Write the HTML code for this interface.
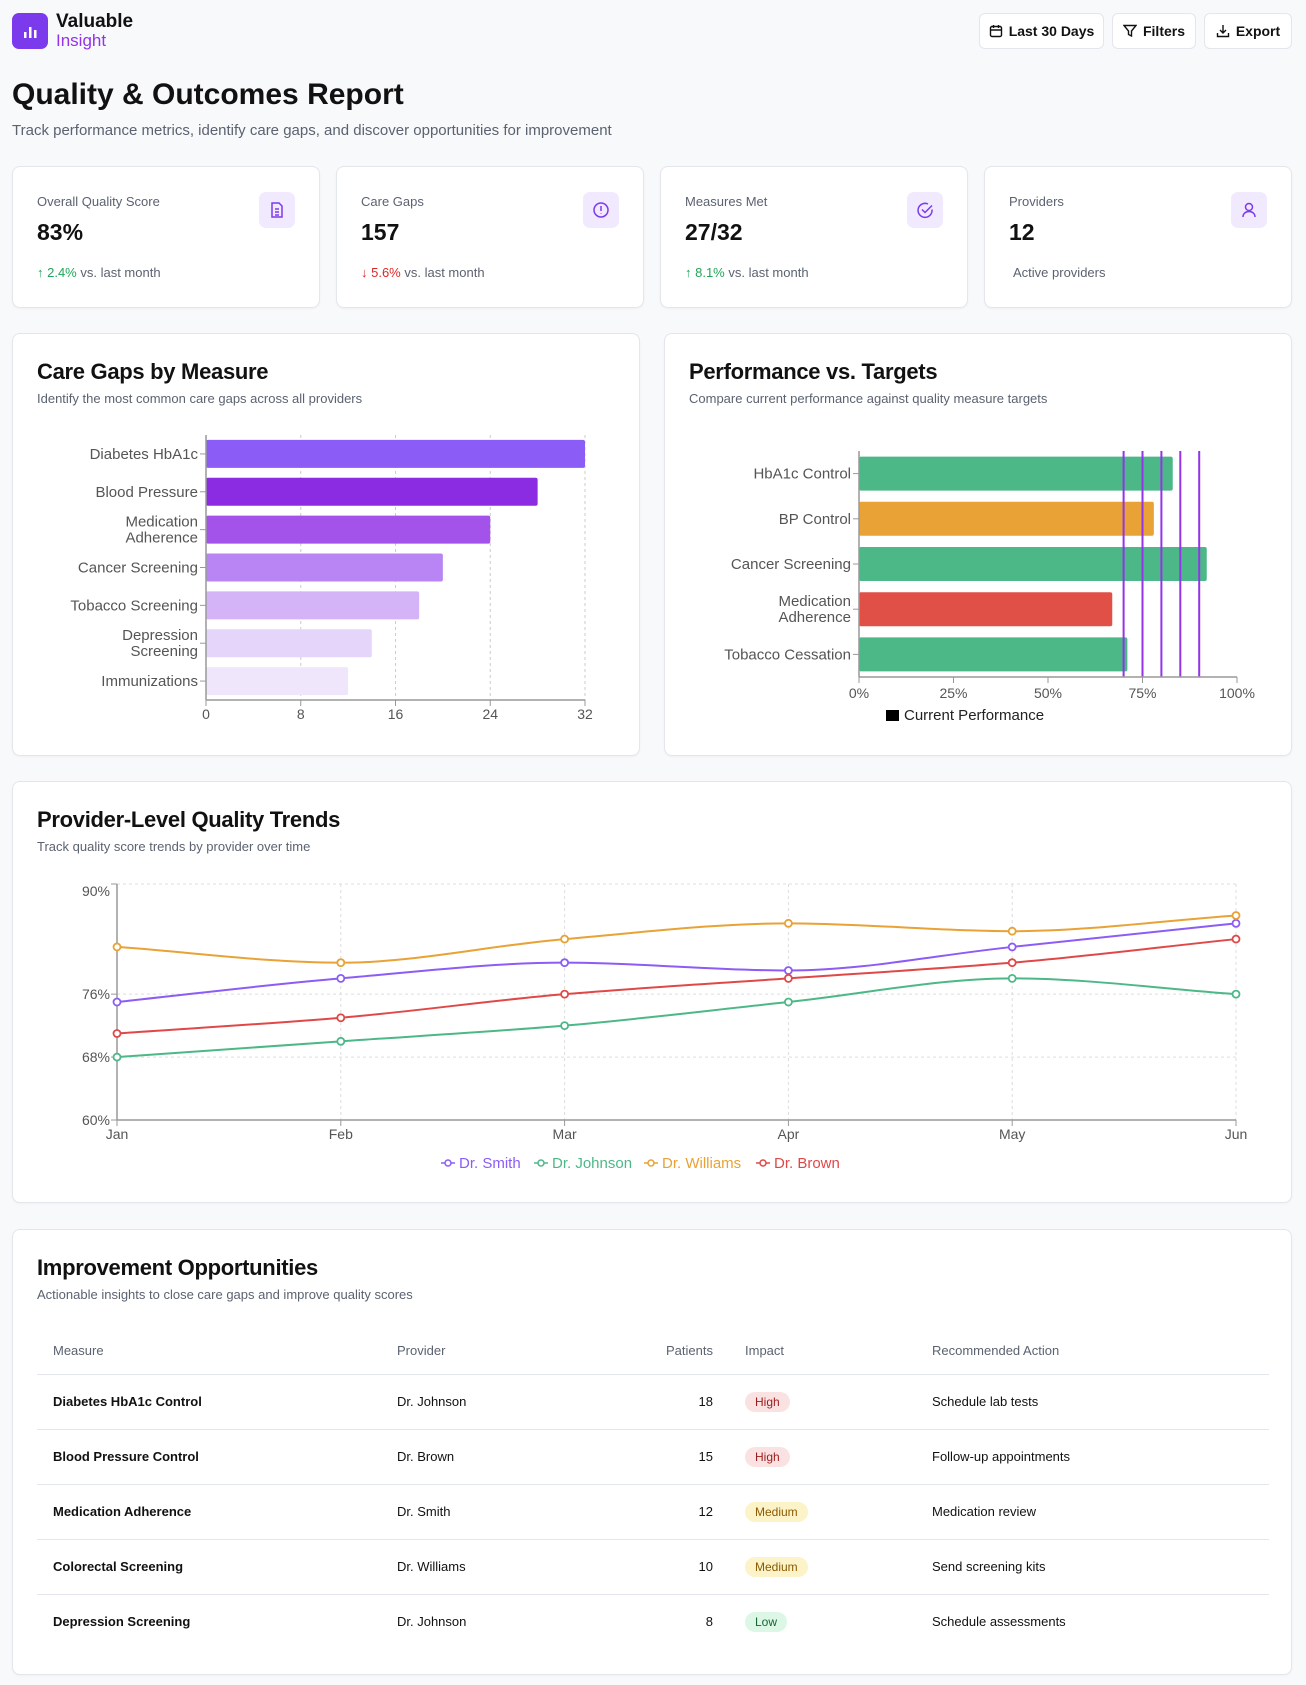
<!DOCTYPE html>
<html><head><meta charset="utf-8">
<style>
*{box-sizing:border-box;margin:0;padding:0}
body{width:1306px;height:1685px;background:#f8f9fb;font-family:"Liberation Sans",sans-serif;color:#111;position:relative;overflow:hidden}
.abs{position:absolute}
.card{position:absolute;background:#fff;border:1px solid #e3e6ec;border-radius:8px;box-shadow:0 1px 2px rgba(0,0,0,.04)}
.btn{position:absolute;top:13px;height:36px;background:#fff;border:1px solid #e3e6ec;border-radius:6px;font-size:14px;font-weight:bold;display:flex;align-items:center;justify-content:center;gap:6px;color:#111}
.kt{position:absolute;left:24px;top:27px;font-size:13px;color:#5b6270}
.kv{position:absolute;left:24px;top:52px;font-size:23px;font-weight:bold}
.kc{position:absolute;left:24px;top:98px;font-size:13px;color:#5b6270}
.ki{position:absolute;right:24px;top:25px;width:36px;height:36px;border-radius:7px;background:#f1e9fd;display:flex;align-items:center;justify-content:center}
.ct{position:absolute;left:24px;top:25px;font-size:22px;font-weight:bold;letter-spacing:-0.3px}
.cs{position:absolute;left:24px;top:57px;font-size:13px;color:#5b6270}
table{position:absolute;left:24px;top:97px;width:1232px;border-collapse:collapse;font-size:13px}
th{font-weight:normal;color:#5b6270;text-align:left;height:47px;border-bottom:1px solid #e3e6ec;padding-left:16px}
td{height:55px;border-bottom:1px solid #e3e6ec;padding-left:16px;color:#111}
tr:last-child td{border-bottom:none}
.pill{display:inline-block;padding:3px 10px;border-radius:11px;font-size:12px}
.hi{background:#fbe2e2;color:#9b1c1c}.me{background:#fdf3c8;color:#8a5a00}.lo{background:#dcf7e6;color:#166534}
</style></head><body>
<div class="abs" style="left:12px;top:13px;width:36px;height:36px;border-radius:7px;background:#7c3aed">
<svg width="36" height="36"><rect x="12" y="19" width="2.5" height="6" fill="#fff"/><rect x="17" y="14" width="2.5" height="11" fill="#fff"/><rect x="22" y="17" width="2.5" height="8" fill="#fff"/></svg></div>
<div class="abs" style="left:56px;top:12px;font-size:19px;font-weight:bold;line-height:20px">Valuable</div>
<div class="abs" style="left:56px;top:32px;font-size:17px;color:#9333ea;line-height:18px">Insight</div>
<div class="btn" style="left:979px;width:125px"><svg width="14" height="14" viewBox="0 0 14 14" fill="none" stroke="#111" stroke-width="1.4"><rect x="1.5" y="2.5" width="11" height="10" rx="1.5"/><path d="M1.5 6h11M4.5 1v3M9.5 1v3"/></svg>Last 30 Days</div>
<div class="btn" style="left:1112px;width:84px"><svg width="14" height="14" viewBox="0 0 14 14" fill="none" stroke="#111" stroke-width="1.4"><path d="M1 1.5h12L8.5 7v5l-3-1.5V7z"/></svg>Filters</div>
<div class="btn" style="left:1204px;width:88px"><svg width="14" height="14" viewBox="0 0 14 14" fill="none" stroke="#111" stroke-width="1.4"><path d="M7 1v8M4 6l3 3 3-3M1.5 9v3.5h11V9"/></svg>Export</div>
<div class="abs" style="left:12px;top:78px;font-size:30px;font-weight:bold">Quality &amp; Outcomes Report</div>
<div class="abs" style="left:12px;top:122px;font-size:15px;color:#5b6270">Track performance metrics, identify care gaps, and discover opportunities for improvement</div>

<div class="card" style="left:12px;top:166px;width:308px;height:142px">
<div class="kt">Overall Quality Score</div><div class="kv">83%</div><div class="kc"><span style="color:#22a55a">↑ 2.4%</span> vs. last month</div>
<div class="ki"><svg width="18" height="18" viewBox="0 0 18 18" fill="none" stroke="#7c3aed" stroke-width="1.5"><path d="M4 2h7l3 3v11H4zM7 8h4M7 11h4M7 14h4"/></svg></div></div>
<div class="card" style="left:336px;top:166px;width:308px;height:142px">
<div class="kt">Care Gaps</div><div class="kv">157</div><div class="kc"><span style="color:#dc2626">↓ 5.6%</span> vs. last month</div>
<div class="ki"><svg width="18" height="18" viewBox="0 0 18 18" fill="none" stroke="#7c3aed" stroke-width="1.5"><circle cx="9" cy="9" r="7"/><path d="M9 5v5M9 12.5v.5"/></svg></div></div>
<div class="card" style="left:660px;top:166px;width:308px;height:142px">
<div class="kt">Measures Met</div><div class="kv">27/32</div><div class="kc"><span style="color:#22a55a">↑ 8.1%</span> vs. last month</div>
<div class="ki"><svg width="18" height="18" viewBox="0 0 18 18" fill="none" stroke="#7c3aed" stroke-width="1.5"><path d="M16 8.5A7 7 0 1 1 12 3"/><path d="M6 8.5l3 3 7-7"/></svg></div></div>
<div class="card" style="left:984px;top:166px;width:308px;height:142px">
<div class="kt">Providers</div><div class="kv">12</div><div class="kc" style="left:28px">Active providers</div>
<div class="ki"><svg width="18" height="18" viewBox="0 0 18 18" fill="none" stroke="#7c3aed" stroke-width="1.5"><circle cx="9" cy="6" r="3.5"/><path d="M3 16c0-3.5 2.7-5.5 6-5.5s6 2 6 5.5"/></svg></div></div>

<div class="card" style="left:12px;top:333px;width:628px;height:423px">
<div class="ct">Care Gaps by Measure</div><div class="cs">Identify the most common care gaps across all providers</div></div>
<div class="card" style="left:664px;top:333px;width:628px;height:423px">
<div class="ct">Performance vs. Targets</div><div class="cs">Compare current performance against quality measure targets</div></div>
<div class="card" style="left:12px;top:781px;width:1280px;height:422px">
<div class="ct">Provider-Level Quality Trends</div><div class="cs">Track quality score trends by provider over time</div></div>
<div class="card" style="left:12px;top:1229px;width:1280px;height:446px">
<div class="ct">Improvement Opportunities</div><div class="cs">Actionable insights to close care gaps and improve quality scores</div>
<table>
<tr><th style="width:344px">Measure</th><th style="width:262px">Provider</th><th style="width:70px;text-align:right;padding-left:0">Patients</th><th style="width:203px;padding-left:32px">Impact</th><th>Recommended Action</th></tr>
<tr><td><b>Diabetes HbA1c Control</b></td><td>Dr. Johnson</td><td style="text-align:right">18</td><td style="padding-left:32px"><span class="pill hi">High</span></td><td>Schedule lab tests</td></tr>
<tr><td><b>Blood Pressure Control</b></td><td>Dr. Brown</td><td style="text-align:right">15</td><td style="padding-left:32px"><span class="pill hi">High</span></td><td>Follow-up appointments</td></tr>
<tr><td><b>Medication Adherence</b></td><td>Dr. Smith</td><td style="text-align:right">12</td><td style="padding-left:32px"><span class="pill me">Medium</span></td><td>Medication review</td></tr>
<tr><td><b>Colorectal Screening</b></td><td>Dr. Williams</td><td style="text-align:right">10</td><td style="padding-left:32px"><span class="pill me">Medium</span></td><td>Send screening kits</td></tr>
<tr><td><b>Depression Screening</b></td><td>Dr. Johnson</td><td style="text-align:right">8</td><td style="padding-left:32px"><span class="pill lo">Low</span></td><td>Schedule assessments</td></tr>
</table></div>

<svg id="ov" class="abs" style="left:0;top:0" width="1306" height="1685" font-family="Liberation Sans, sans-serif"></svg>
<script>
const gapCats=["Diabetes HbA1c","Blood Pressure","Medication Adherence","Cancer Screening","Tobacco Screening","Depression Screening","Immunizations"];
const gapVals=[32,28,24,20,18,14,12];
const gapTicks=[0,8,16,24,32];
const perfCats=["HbA1c Control","BP Control","Cancer Screening","Medication Adherence","Tobacco Cessation"];
const perfVals=[83,78,92,67,71];
const perfTargets=[70,75,80,85,90];
const perfTicks=[0,25,50,75,100];
const months=["Jan","Feb","Mar","Apr","May","Jun"];
const smith=[75,78,80,79,82,85];
const johnson=[68,70,72,75,78,76];
const williams=[82,80,83,85,84,86];
const brown=[71,73,76,78,80,83];
const trendTicks=[60,68,76,90];

const NS="http://www.w3.org/2000/svg",ov=document.getElementById('ov');
function mk(t,a,txt){const e=document.createElementNS(NS,t);for(const k in a)e.setAttribute(k,a[k]);if(txt!==undefined)e.textContent=txt;ov.appendChild(e);return e;}
function label(x,y,s){const parts=s==="Medication Adherence"?["Medication","Adherence"]:s==="Depression Screening"?["Depression","Screening"]:[s];
 parts.forEach((p,i)=>{const t=mk('text',{x:x,y:y+5+(parts.length>1?(i-0.5)*16:0),'text-anchor':'end','font-size':15,fill:'#555'},p);});}

(function(){const x0=206,x1=585,yT=435,yB=700,n=gapCats.length,step=(yB-yT)/n;
 const xs=v=>x0+(x1-x0)*v/32;
 gapTicks.forEach(t=>{if(t>0){const g=mk('line',{x1:xs(t),x2:xs(t),y1:yT,y2:yB,stroke:'#ccc','stroke-dasharray':'3 3'});}
  mk('line',{x1:xs(t),x2:xs(t),y1:yB,y2:yB+6,stroke:'#999'});
  const l=mk('text',{x:xs(t),y:yB+19,'text-anchor':'middle','font-size':14,fill:'#555'},t);});
 const cols=['#8b5cf6','#8b2be2','#a352ea','#b984f3','#d4b4f6','#e6d5fa','#f0e6fc'];
 gapCats.forEach((c,i)=>{const yc=yT+step*(i+0.5);
  const b=mk('rect',{x:x0,y:yc-14,width:xs(gapVals[i])-x0,height:28,rx:2,fill:cols[i]});
  mk('line',{x1:x0-6,x2:x0,y1:yc,y2:yc,stroke:'#999'});label(x0-8,yc,c);});
 mk('line',{x1:x0,x2:x0,y1:yT,y2:yB,stroke:'#999','stroke-width':1.5});
 mk('line',{x1:x0,x2:x1,y1:yB,y2:yB,stroke:'#999','stroke-width':1.5});
})();

(function(){const x0=859,x1=1237,yT=451,yB=677,n=perfCats.length,step=(yB-yT)/n;
 const xs=v=>x0+(x1-x0)*v/100;
 perfCats.forEach((c,i)=>{const yc=yT+step*(i+0.5);const v=perfVals[i];
  const col=v>=80?'#4db887':v>=75?'#e8a236':v>=70?'#4db887':'#e05047';
  const b=mk('rect',{x:x0,y:yc-17,width:xs(v)-x0,height:34,rx:2,fill:col});
  mk('line',{x1:x0-6,x2:x0,y1:yc,y2:yc,stroke:'#999'});label(x0-8,yc,c);});
 perfTargets.forEach(t=>{const l=mk('line',{x1:xs(t),x2:xs(t),y1:yT,y2:yB,stroke:'#9333ea','stroke-width':2});});
 perfTicks.forEach(t=>{mk('line',{x1:xs(t),x2:xs(t),y1:yB,y2:yB+6,stroke:'#999'});
  const l=mk('text',{x:xs(t),y:yB+21,'text-anchor':'middle','font-size':14,fill:'#555'},t+'%');});
 mk('line',{x1:x0,x2:x0,y1:yT,y2:yB,stroke:'#999','stroke-width':1.5});
 mk('line',{x1:x0,x2:x1,y1:yB,y2:yB,stroke:'#999','stroke-width':1.5});
 const lg=mk('rect',{x:886,y:710,width:13,height:11,fill:'#000'});
 const lt=mk('text',{x:904,y:720,'font-size':15,fill:'#222'},'Current Performance');
})();

(function(){const x0=117,x1=1236,yTop=884,yBot=1120,lo=60,hi=90;
 const xs=i=>x0+(x1-x0)*i/(months.length-1), ys=v=>yBot-(yBot-yTop)*(v-lo)/(hi-lo);
 trendTicks.forEach(t=>{mk('line',{x1:x0,x2:x1,y1:ys(t),y2:ys(t),stroke:'#ddd','stroke-dasharray':'3 3'});
  mk('line',{x1:x0-6,x2:x0,y1:ys(t),y2:ys(t),stroke:'#999'});
  const l=mk('text',{x:x0-7,y:ys(t)+(t===90?12:5),'text-anchor':'end','font-size':14,fill:'#555'},t+'%');});
 months.forEach((m,i)=>{mk('line',{x1:xs(i),x2:xs(i),y1:yTop,y2:yBot,stroke:'#ddd','stroke-dasharray':'3 3'});
  mk('line',{x1:xs(i),x2:xs(i),y1:yBot,y2:yBot+6,stroke:'#999'});
  const l=mk('text',{x:xs(i),y:yBot+19,'text-anchor':'middle','font-size':14,fill:'#555'},m);});
 mk('line',{x1:x0,x2:x0,y1:yTop,y2:yBot,stroke:'#999','stroke-width':1.5});
 mk('line',{x1:x0,x2:x1,y1:yBot,y2:yBot,stroke:'#999','stroke-width':1.5});
 function mono(px,py){const n=px.length,d=[],m=[];for(let i=0;i<n-1;i++)d.push((py[i+1]-py[i])/(px[i+1]-px[i]));
  for(let i=0;i<n;i++){if(i===0)m.push(d[0]);else if(i===n-1)m.push(d[n-2]);else m.push(d[i-1]*d[i]<=0?0:(3*(px[i+1]-px[i-1]))/((2*px[i+1]-px[i]-px[i-1])/d[i-1]+(px[i+1]+px[i]-2*px[i-1])/d[i]));}
  let s='M'+px[0]+','+py[0];for(let i=0;i<n-1;i++){const h=(px[i+1]-px[i])/3;s+=` C${px[i]+h},${py[i]+m[i]*h} ${px[i+1]-h},${py[i+1]-m[i+1]*h} ${px[i+1]},${py[i+1]}`;}return s;}
 const series=[[smith,'#8b5cf6','Dr. Smith'],[johnson,'#4db887','Dr. Johnson'],[williams,'#e8a236','Dr. Williams'],[brown,'#e04848','Dr. Brown']];
 series.forEach(([vals,col,nm],k)=>{const px=vals.map((v,i)=>xs(i)),py=vals.map(ys);
  const p=mk('path',{d:mono(px,py),fill:'none',stroke:col,'stroke-width':2});
  vals.forEach((v,i)=>{const c=mk('circle',{cx:xs(i),cy:ys(v),r:3.5,fill:'#fff',stroke:col,'stroke-width':1.8});});});
 let lx=441;const widths=[93,110,112,90];
 series.forEach(([v,col,nm],k)=>{mk('line',{x1:lx,x2:lx+14,y1:1163,y2:1163,stroke:col,'stroke-width':1.5});mk('circle',{cx:lx+7,cy:1163,r:3,fill:'#fff',stroke:col,'stroke-width':1.5});
  const t=mk('text',{x:lx+18,y:1168,'font-size':15,fill:col},nm);lx+=widths[k];});
})();
</script>
</body></html>
